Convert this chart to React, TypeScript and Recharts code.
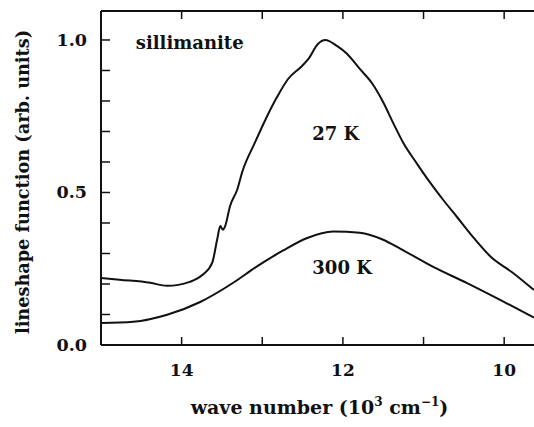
import React from "react";
import { LineChart, Line, XAxis, YAxis, ReferenceDot, Label } from "recharts";

// wave number (10^3 cm^-1) and lineshape values
const lowTempX = [15.0, 14.77, 14.39, 14.18, 13.9, 13.74, 13.62, 13.56, 13.52, 13.49, 13.46, 13.4, 13.31, 13.25, 13.09, 12.94, 12.81, 12.68, 12.51, 12.43, 12.31, 12.22, 12.07, 11.95, 11.79, 11.63, 11.5, 11.38, 11.25, 11.08, 10.92, 10.76, 10.58, 10.39, 10.17, 9.89, 9.63];
const lowTempY = [0.22, 0.214, 0.204, 0.194, 0.207, 0.23, 0.27, 0.345, 0.39, 0.378, 0.39, 0.455, 0.51, 0.566, 0.664, 0.75, 0.816, 0.872, 0.914, 0.937, 0.987, 1.0, 0.98, 0.955, 0.905, 0.855, 0.796, 0.73, 0.662, 0.594, 0.533, 0.477, 0.418, 0.355, 0.29, 0.236, 0.18];

const roomTempX = [15.0, 14.6, 14.18, 13.77, 13.36, 13.07, 12.74, 12.45, 12.12, 11.79, 11.5, 11.29, 10.88, 10.46, 10.05, 9.63];
const roomTempY = [0.072, 0.076, 0.099, 0.141, 0.204, 0.257, 0.31, 0.35, 0.372, 0.368, 0.345, 0.316, 0.256, 0.203, 0.148, 0.09];

const xTicks = [14, 13, 12, 11, 10];
const xLabeled = [14, 12, 10];
const yTicks = [0, 0.1, 0.2, 0.3, 0.4, 0.5, 0.6, 0.7, 0.8, 0.9, 1.0];
const yLabeled = [0, 0.5, 1.0];

const annotations = [
  { x: 13.9, y: 0.993, text: "sillimanite" },
  { x: 12.09, y: 0.694, text: "27 K" },
  { x: 12.01, y: 0.253, text: "300 K" },
];

const lowTemp = lowTempX.map((x, i) => ({ x, y: lowTempY[i] }));
const roomTemp = roomTempX.map((x, i) => ({ x, y: roomTempY[i] }));

const FONT = "'DejaVu Serif', serif";
const INK = "#111";

const BottomTick = (props: any) => {
  const { x, y, payload } = props;
  const show = xLabeled.some((v) => Math.abs(v - payload.value) < 1e-6);
  return (
    <g>
      <line x1={x} y1={y} x2={x} y2={y - 8} stroke={INK} strokeWidth={1.5} />
      {show && (
        <text x={x} y={y + 25} textAnchor="middle" dominantBaseline="central" fontFamily={FONT} fontWeight="bold" fontSize={17} fill={INK}>
          {payload.value}
        </text>
      )}
    </g>
  );
};

const TopTick = (props: any) => {
  const { x, y } = props;
  return <line x1={x} y1={y} x2={x} y2={y + 8} stroke={INK} strokeWidth={1.5} />;
};

const LeftTick = (props: any) => {
  const { x, y, payload } = props;
  const show = yLabeled.some((v) => Math.abs(v - payload.value) < 1e-6);
  return (
    <g>
      <line x1={x} y1={y} x2={x + 9} y2={y} stroke={INK} strokeWidth={1.5} />
      {show && (
        <text x={x - 14} y={y} textAnchor="end" dominantBaseline="central" fontFamily={FONT} fontWeight="bold" fontSize={17.5} fill={INK}>
          {Number(payload.value).toFixed(1)}
        </text>
      )}
    </g>
  );
};

const XTitle = (props: any) => {
  const vb = props.viewBox;
  const cx = vb.x + vb.width / 2 + 2;
  return (
    <text x={cx} y={414} textAnchor="middle" fontFamily={FONT} fontWeight="bold" fontSize={19} fill={INK}>
      wave number (10
      <tspan fontSize={12} dy={-8}>3</tspan>
      <tspan dy={8}> cm</tspan>
      <tspan fontSize={12} dy={-8}>−1</tspan>
      <tspan dy={8}>)</tspan>
    </text>
  );
};

const YTitle = (props: any) => {
  const vb = props.viewBox;
  const cy = vb.y + vb.height / 2 + 4;
  return (
    <text x={22} y={cy} transform={`rotate(-90, 22, ${cy})`} textAnchor="middle" dominantBaseline="central" fontFamily={FONT} fontWeight="bold" fontSize={17.7} fill={INK}>
      lineshape function (arb. units)
    </text>
  );
};

export default function App() {
  return (
    <div style={{ position: "absolute", left: 0, top: 0, background: "#fff" }}>
      <LineChart width={534} height={427} margin={{ top: 0, right: 0, bottom: 0, left: 0 }}>
        <XAxis
          xAxisId="b"
          type="number"
          dataKey="x"
          domain={[9.63, 15]}
          reversed
          ticks={xTicks}
          interval={0}
          allowDataOverflow
          orientation="bottom"
          height={82}
          tickSize={0}
          tickMargin={0}
          tick={<BottomTick />}
          tickLine={false}
          axisLine={{ stroke: INK, strokeWidth: 2 }}
        >
          <Label content={<XTitle />} />
        </XAxis>
        <XAxis
          xAxisId="t"
          type="number"
          dataKey="x"
          domain={[9.63, 15]}
          reversed
          ticks={xTicks}
          interval={0}
          allowDataOverflow
          orientation="top"
          height={11}
          tickSize={0}
          tickMargin={0}
          tick={<TopTick />}
          tickLine={false}
          axisLine={{ stroke: INK, strokeWidth: 2 }}
        />
        <YAxis
          type="number"
          domain={[0, 1.095]}
          ticks={yTicks}
          interval={0}
          allowDataOverflow
          width={101}
          tickSize={0}
          tickMargin={0}
          tick={<LeftTick />}
          tickLine={false}
          axisLine={{ stroke: INK, strokeWidth: 2 }}
        >
          <Label content={<YTitle />} />
        </YAxis>
        <Line xAxisId="b" data={lowTemp} dataKey="y" type="monotone" dot={false} stroke={INK} strokeWidth={2} isAnimationActive={false} />
        <Line xAxisId="b" data={roomTemp} dataKey="y" type="monotone" dot={false} stroke={INK} strokeWidth={2} isAnimationActive={false} />
        {annotations.map((a) => (
          <ReferenceDot
            key={a.text}
            xAxisId="b"
            x={a.x}
            y={a.y}
            r={0}
            fill="none"
            stroke="none"
            label={{ value: a.text, position: "center", fontFamily: FONT, fontWeight: "bold", fontSize: 18, fill: INK }}
          />
        ))}
      </LineChart>
    </div>
  );
}
